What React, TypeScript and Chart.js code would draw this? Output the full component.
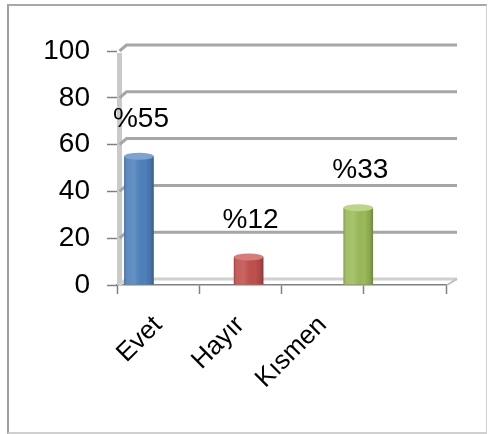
import React, { useEffect, useRef } from "react";
import { Chart, registerables } from "chart.js";

Chart.register(...registerables);

// ---- data ----
const categories = ["Evet", "Hayır", "Kısmen"];
const axisLabels = ["Evet", "Hayır", "Kısmen", ""];
const values = [55, 12, 33];
const yMin = 0;
const yMax = 100;
const yStep = 20;

// ---- styles ----
const barColors = ["#4f81bd", "#c0504d", "#9bbb59"];
const barTopColors = ["#7ea3d3", "#d67d7a", "#bcd688"];
const FONT = "'Liberation Sans', Arial, sans-serif";
const DEPTH_X = 7;
const DEPTH_Y = 6;

const wallPlugin = {
  id: "wall3d",
  beforeDatasetsDraw(chart: any) {
    const { ctx, chartArea: a, scales } = chart;
    const y = scales.y;
    ctx.save();
    // left wall edge
    ctx.strokeStyle = "#cacaca";
    ctx.lineWidth = 5;
    ctx.beginPath();
    ctx.moveTo(a.left + 2.5, a.top + 2);
    ctx.lineTo(a.left + 2.5, a.bottom);
    ctx.stroke();
    // back-wall gridlines
    y.ticks.forEach((t: any) => {
      const py = y.getPixelForValue(t.value);
      ctx.strokeStyle = t.value === yMin ? "#d0d0d0" : "#a6a6a6";
      ctx.lineWidth = 3;
      ctx.beginPath();
      ctx.moveTo(a.left + 2.5, py);
      ctx.lineTo(a.left + 2.5 + DEPTH_X, py - DEPTH_Y);
      ctx.lineTo(a.right + 11, py - DEPTH_Y);
      ctx.stroke();
    });
    // floor right edge
    ctx.strokeStyle = "#bdbdbd";
    ctx.lineWidth = 2;
    ctx.beginPath();
    ctx.moveTo(a.right + 1, a.bottom);
    ctx.lineTo(a.right + 11, a.bottom - DEPTH_Y);
    ctx.stroke();
    ctx.restore();
  },
};

const cylinderPlugin = {
  id: "cylinder",
  afterDatasetsDraw(chart: any) {
    const { ctx } = chart;
    const meta = chart.getDatasetMeta(0);
    ctx.save();
    meta.data.forEach((el: any, i: number) => {
      const { x, y, base, width } = el.getProps(["x", "y", "base", "width"], true);
      const l = x - width / 2;
      const g = ctx.createLinearGradient(l, 0, l + width, 0);
      g.addColorStop(0, "rgba(0,0,0,0.2)");
      g.addColorStop(0.1, "rgba(255,255,255,0.08)");
      g.addColorStop(0.35, "rgba(255,255,255,0.12)");
      g.addColorStop(0.7, "rgba(0,0,0,0)");
      g.addColorStop(0.9, "rgba(0,0,0,0.12)");
      g.addColorStop(1, "rgba(0,0,0,0.3)");
      ctx.fillStyle = g;
      ctx.fillRect(l, y, width, base - y);
      ctx.beginPath();
      ctx.ellipse(x, y, width / 2, 3.5, 0, 0, Math.PI * 2);
      ctx.fillStyle = barTopColors[i];
      ctx.fill();
    });
    ctx.restore();
  },
};

const valueLabelPlugin = {
  id: "valueLabels",
  afterDatasetsDraw(chart: any) {
    const { ctx } = chart;
    const meta = chart.getDatasetMeta(0);
    ctx.save();
    ctx.fillStyle = "#000";
    ctx.font = `28px ${FONT}`;
    ctx.textAlign = "center";
    ctx.textBaseline = "middle";
    meta.data.forEach((el: any, i: number) => {
      const { x, y } = el.getProps(["x", "y"], true);
      ctx.fillText("%" + values[i], x + 2, y - 37);
    });
    ctx.restore();
  },
};

export default function App() {
  const ref = useRef<HTMLCanvasElement | null>(null);

  useEffect(() => {
    if (!ref.current) return;
    const placeholder = categories.map(() => null);
    const barOpts = { xAxisID: "x2", barPercentage: 0.9, categoryPercentage: 0.9 };
    const chart = new Chart(ref.current, {
      type: "bar",
      data: {
        labels: categories,
        datasets: [
          { data: values, backgroundColor: barColors, ...barOpts },
          { data: placeholder, ...barOpts },
          { data: placeholder, ...barOpts },
        ],
      },
      options: {
        animation: false,
        responsive: false,
        layout: { padding: { top: 51, right: 42, left: 0, bottom: 0 } },
        plugins: { legend: { display: false }, tooltip: { enabled: false } },
        scales: {
          x: {
            type: "category",
            labels: axisLabels,
            position: "bottom",
            offset: true,
            grid: {
              offset: true,
              drawOnChartArea: false,
              drawTicks: true,
              tickLength: 9,
              tickColor: "#808080",
              tickWidth: 1.5,
            },
            border: { display: true, color: "#808080", width: 1.5 },
            ticks: {
              autoSkip: false,
              minRotation: 45,
              maxRotation: 45,
              padding: 16,
              color: "#000",
              font: { family: FONT, size: 26 },
            },
            afterFit: (s: any) => {
              s.height = 149;
            },
          },
          x2: { type: "category", labels: categories, display: false, offset: true },
          y: {
            min: yMin,
            max: yMax,
            ticks: {
              stepSize: yStep,
              padding: 17,
              color: "#000",
              font: { family: FONT, size: 28 },
            },
            grid: {
              drawOnChartArea: false,
              tickLength: 10,
              tickColor: "#808080",
              tickWidth: 1.5,
            },
            border: { display: false },
            afterFit: (s: any) => {
              s.width = 117;
            },
          },
        },
      } as any,
      plugins: [wallPlugin, cylinderPlugin, valueLabelPlugin],
    });
    return () => chart.destroy();
  }, []);

  return (
    <div>
      <div
        style={{
          position: "fixed",
          left: 7,
          top: 4,
          width: 480,
          height: 430,
          boxSizing: "border-box",
          borderLeft: "2px solid #a0a0a0",
          borderTop: "2px solid #a8a8a8",
          borderRight: "1px solid #d0d0d0",
          borderBottom: "2px solid #d0d0d0",
        }}
      />
      <canvas
        ref={ref}
        width={488}
        height={434}
        style={{ position: "fixed", left: 0, top: 0, width: 488, height: 434, display: "block" }}
      />
    </div>
  );
}
